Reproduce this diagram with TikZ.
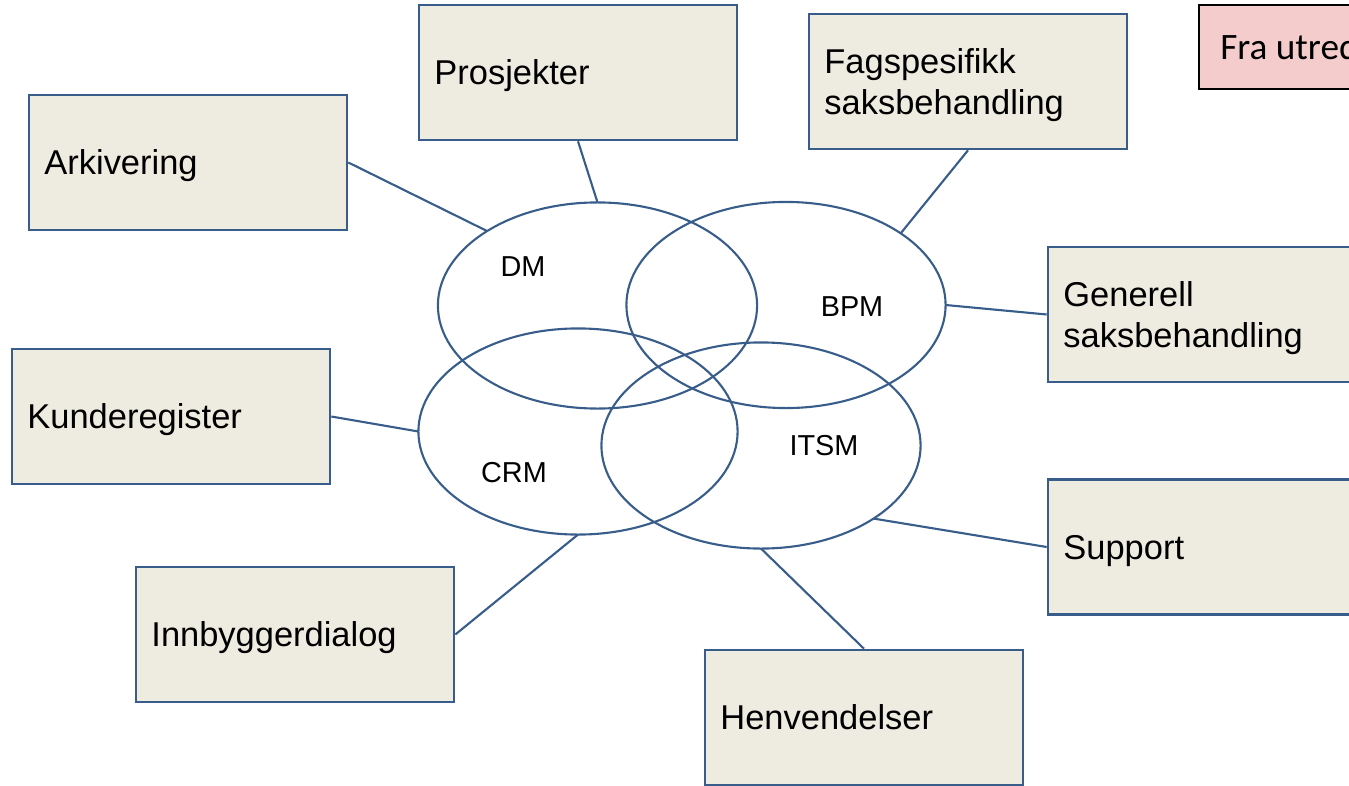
\documentclass[tikz,border=0pt]{standalone}
\usepackage{fontspec}
\setmainfont{Liberation Sans}
\newfontfamily\carlito{Carlito}
\usetikzlibrary{shapes.geometric}
\definecolor{boxfill}{HTML}{EEECE1}
\definecolor{boxline}{HTML}{385D8A}
\definecolor{notefill}{HTML}{F4CCCC}
\tikzset{
  area/.style={draw=boxline, fill=boxfill, line width=0.7pt,
    minimum width=3.18cm, minimum height=1.35cm, text width=2.87cm,
    inner sep=0.155cm, text depth=0pt, align=left,
    font=\fontsize{9.8}{11.4}\selectfont},
  twolines/.style={text depth=11.4pt},
  system/.style={ellipse, draw=boxline, line width=0.6pt,
    minimum width=3.19cm, minimum height=2.06cm, inner sep=0pt, outer sep=0pt},
  syslabel/.style={font=\fontsize{8.2}{9}\selectfont},
  link/.style={draw=boxline, line width=0.6pt},
  note/.style={draw=black, fill=notefill, line width=0.7pt, anchor=west,
    minimum height=0.84cm, inner sep=0.21cm,
    font=\carlito\fontsize{10.6}{12}\selectfont}
}
\begin{document}
\begin{tikzpicture}[x=0.01cm, y=-0.01cm]
	\useasboundingbox (0,0) rectangle (1349,785);
	\clip (0,0) rectangle (1349,785);
	% the four systems
	\node[system] (dm) at (597.5,305.5) {};
	\node[system] (bpm) at (786,305) {};
	\node[system] (crm) at (578,431.5) {};
	\node[system] (itsm) at (761,445.5) {};
	\node[syslabel] (dmlabel) at (523,267) {DM};
	\node[syslabel] (bpmlabel) at (852,307) {BPM};
	\node[syslabel] (crmlabel) at (514,473) {CRM};
	\node[syslabel] (itsmlabel) at (824,446) {ITSM};
	% areas around them
	\node[area] (pro) at (578,72.5) {Prosjekter};
	\node[area,twolines] (fag) at (968,81.5) {Fagspesifikk\\saksbehandling};
	\node[area] (ark) at (188,162.5) {Arkivering};
	\node[area,twolines] (gen) at (1207,314.5) {Generell\\saksbehandling};
	\node[area] (kun) at (171,416.5) {Kunderegister};
	\node[area] (sup) at (1207,547) {Support};
	\node[area] (inn) at (295,634.5) {Innbyggerdialog};
	\node[area] (hen) at (864,717.5) {Henvendelser};
	% note, cut by the edge
	\node[note] (fra) at (1198,47) {Fra utred};
	% links
	\draw[link] (ark.east) -- (dm.146.7);
	\draw[link] (pro.south) -- (dm.north);
	\draw[link] (fag.south) -- (bpm.32.3);
	\draw[link] (gen.west) -- (bpm.east);
	\draw[link] (kun.east) -- (crm.west);
	\draw[link] (sup.west) -- (itsm.-33.3);
	\draw[link] (inn.east) -- (crm.south);
	\draw[link] (hen.north) -- (itsm.south);
\end{tikzpicture}
\end{document}
